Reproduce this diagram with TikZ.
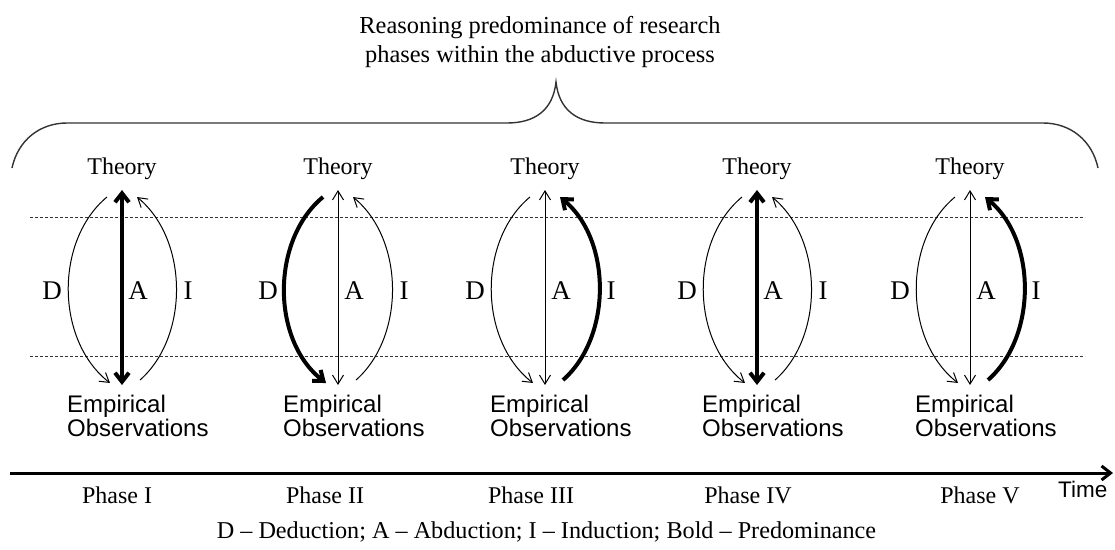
\documentclass[tikz,border=0pt]{standalone}
\usepackage{fontspec}
\setmainfont{Liberation Serif}
\newfontfamily\arialf{Liberation Sans}
\usetikzlibrary{arrows.meta}
\begin{document}
\begin{tikzpicture}[x=1pt,y=-1pt,
  txt/.style={font=\fontsize{24}{29}\selectfont, inner sep=0pt},
  big/.style={font=\fontsize{27}{30}\selectfont, inner sep=0pt},
  sans/.style={font=\arialf\fontsize{24}{24}\selectfont, inner sep=0pt},
  weak/.style={line width=1pt, >={Straight Barb[length=9pt,width=11pt]}},
  strong/.style={line width=4pt, >={Straight Barb[length=9pt,width=14pt]}},
  guide/.style={line width=0.9pt, dash pattern=on 3pt off 2pt, black!80},
  brace/.style={line width=1.4pt, black!80},
  timeline/.style={line width=3pt, >={Straight Barb[length=9pt,width=14pt]}}]
\useasboundingbox (0,0) rectangle (1115,549);

% title and brace
\node[font=\fontsize{24.4}{29}\selectfont, inner sep=0pt, anchor=north, align=center] (title) at (540,16.4)
  {Reasoning predominance of research\\phases within the abductive process};
\coordinate (bl) at (12,168);
\coordinate (br) at (1098,168);
\coordinate (btip) at (556,82);
\draw[brace] (bl) .. controls (18,140) and (40,123) .. (67,123) -- (507,123)
  .. controls (535,123) and (553,110) .. (btip)
  .. controls (559,110) and (577,123) .. (605,123) -- (1043,123)
  .. controls (1070,123) and (1092,140) .. (br);

% dashed guide lines
\coordinate (gl1) at (30,217); \coordinate (gr1) at (1085,217);
\coordinate (gl2) at (30,356); \coordinate (gr2) at (1085,356);
\draw[guide] (gl1) -- (gr1);
\draw[guide] (gl2) -- (gr2);

% phases
\foreach \c/\n/\styA/\styD/\styI/\lab/\lx in {
  122/1/strong/weak/weak/I/117,
  338/2/weak/strong/weak/II/325,
  545/3/weak/weak/strong/III/531,
  757/4/strong/weak/weak/IV/748,
  970/5/weak/weak/strong/V/980}{
  \node[txt, anchor=base] (theory\n) at (\c,174) {Theory};
  \node[sans, anchor=north west, align=left] (emp\n) at (\c-55,395)
    {Empirical\\Observations};
  \coordinate (at\n) at (\c,190);
  \coordinate (ab\n) at (\c,385);
  \coordinate (ds\n) at (\c-15,197);
  \coordinate (de\n) at (\c-12,383);
  \coordinate (is\n) at (\c+18,380);
  \coordinate (ie\n) at (\c+15,197);
  \draw[\styA,<->] (at\n) -- (ab\n);
  \draw[\styD,->] (ds\n) .. controls +(-52,43) and +(-55,-43) .. (de\n);
  \draw[\styI,->] (is\n) .. controls +(49,-43) and +(52,43) .. (ie\n);
  \node[big, anchor=base] (D\n) at (\c-70,299.5) {D};
  \node[big, anchor=base] (A\n) at (\c+16,299.5) {A};
  \node[big, anchor=base] (I\n) at (\c+66,299.5) {I};
  \node[txt, anchor=base] (phase\n) at (\lx,503) {Phase \lab};
}

% time axis
\coordinate (t0) at (10,473);
\coordinate (t1) at (1113,473);
\draw[timeline,->] (t0) -- (t1);
\node[font=\arialf\fontsize{22.5}{24}\selectfont, inner sep=0pt, anchor=base west] (time) at (1058,497) {Time};

% legend
\node[font=\fontsize{24.2}{29}\selectfont, inner sep=0pt, anchor=base] (legend) at (546.5,538)
  {D -- Deduction; A -- Abduction; I -- Induction; Bold -- Predominance};
\end{tikzpicture}
\end{document}
